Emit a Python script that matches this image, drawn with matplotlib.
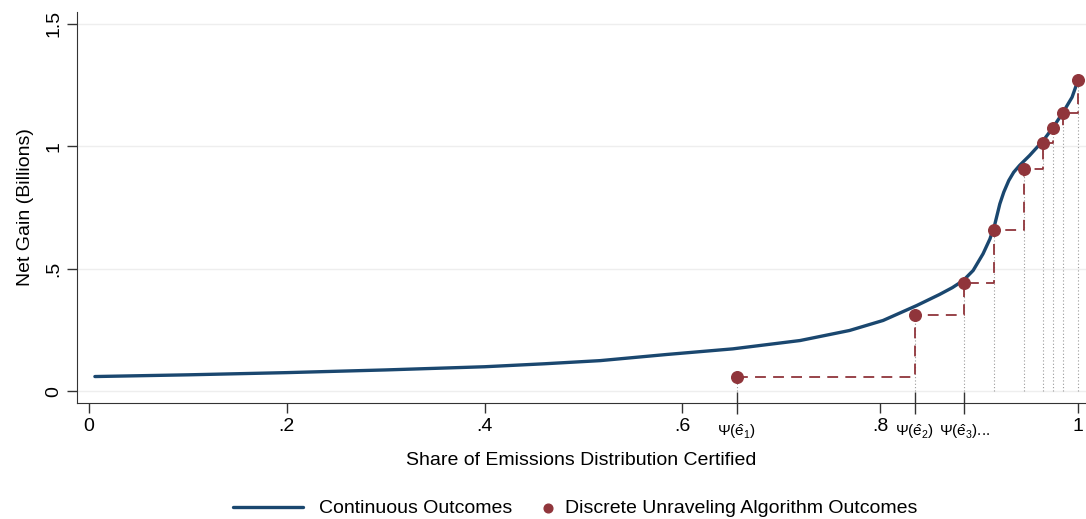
import matplotlib.pyplot as plt
import numpy as np

# continuous outcome curve (share certified, net gain in billions)
cont_x = [0.006, 0.1, 0.2, 0.3, 0.4, 0.46, 0.517, 0.584, 0.651, 0.719, 0.769, 0.803, 0.837,
          0.86, 0.873, 0.884, 0.894, 0.904, 0.911, 0.916, 0.921, 0.925, 0.930, 0.935,
          0.941, 0.951, 0.965, 0.975, 0.985, 0.994, 1.0]
cont_y = [0.06, 0.067, 0.076, 0.087, 0.10, 0.112, 0.125, 0.150, 0.173, 0.207, 0.248, 0.289, 0.350,
          0.395, 0.423, 0.452, 0.493, 0.561, 0.622, 0.683, 0.765, 0.813, 0.860, 0.894,
          0.922, 0.962, 1.024, 1.078, 1.139, 1.200, 1.269]

# discrete unraveling algorithm outcomes
disc_x = [0.655, 0.835, 0.885, 0.915, 0.945, 0.965, 0.975, 0.985, 1.0]
disc_y = [0.057, 0.31, 0.442, 0.66, 0.909, 1.015, 1.075, 1.136, 1.27]

psi_labels = [r'$\Psi(\hat{\mathrm{e}}_1)$', r'$\Psi(\hat{\mathrm{e}}_2)$', r'$\Psi(\hat{\mathrm{e}}_3)$...']

NAVY = '#1a476f'
MAROON = '#90353b'

plt.rcParams['font.family'] = ['Liberation Sans', 'DejaVu Sans']
plt.rcParams['mathtext.fontset'] = 'custom'
plt.rcParams['mathtext.rm'] = 'Liberation Sans'
plt.rcParams['mathtext.it'] = 'Liberation Sans'

fig = plt.figure(figsize=(10.86, 5.19), dpi=100)
ax = fig.add_axes([0.0709, 0.2235, 0.9291, 0.7534])

for y in [0, 0.5, 1, 1.5]:
    ax.axhline(y, color='#eeeeee', lw=1, zorder=0)

ax.vlines(disc_x, 0, disc_y, colors='#999999', linestyles=(0, (1, 2)), lw=0.8, zorder=1)
ax.plot(disc_x, disc_y, drawstyle='steps-post', color=MAROON, ls=(0, (6, 4)), lw=1.3, zorder=2)
line, = ax.plot(cont_x, cont_y, color=NAVY, lw=2.4, zorder=3, solid_capstyle='round')
dots = ax.scatter(disc_x, disc_y, color=MAROON, s=70, zorder=4)

ax.set_xlim(-0.0121, 1.0081)
ax.set_ylim(-0.048, 1.548)
ax.set_xticks([0, 0.2, 0.4, 0.6, 0.8, 1])
ax.set_xticklabels(['0', '.2', '.4', '.6', '.8', '1'])
ax.set_xticks(disc_x[:3], minor=True)
ax.set_xticklabels(psi_labels, minor=True)
ax.set_yticks([0, 0.5, 1, 1.5])
ax.set_yticklabels(['0', '.5', '1', '1.5'], rotation=90, va='center')
ax.tick_params(axis='both', which='major', labelsize=14, length=7, width=1, color='#333333')
ax.tick_params(axis='x', which='minor', labelsize=11, length=16, direction='inout', width=1, pad=6, color='#333333')

ax.spines['top'].set_visible(False)
ax.spines['right'].set_visible(False)
ax.spines['left'].set_color('#333333')
ax.spines['bottom'].set_color('#333333')

ax.set_xlabel('Share of Emissions Distribution Certified', fontsize=14, labelpad=8)
ax.set_ylabel('Net Gain (Billions)', fontsize=14, labelpad=8)

fig.legend([line], ['Continuous Outcomes'], loc='center left', bbox_to_anchor=(0.2145, 0.02),
           frameon=False, fontsize=14, handlelength=3.6, handletextpad=0.8,
           borderaxespad=0, borderpad=0)
fig.legend([dots], ['Discrete Unraveling Algorithm Outcomes'], loc='center left',
           bbox_to_anchor=(0.499, 0.02), frameon=False, fontsize=14, handlelength=0.6,
           handletextpad=0.6, markerscale=0.75, borderaxespad=0, borderpad=0)

fig.savefig('out.png', dpi=100)
